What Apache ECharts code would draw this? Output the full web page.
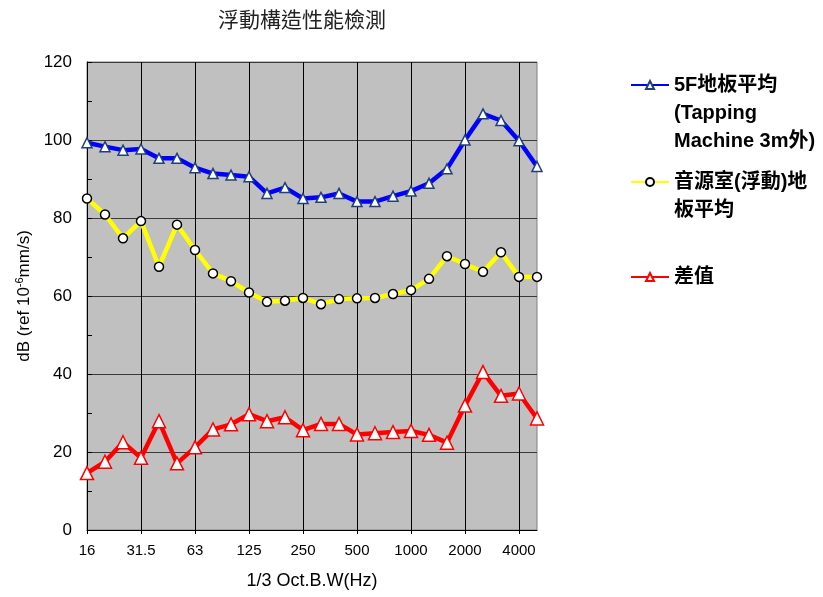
<!DOCTYPE html>
<html>
<head>
<meta charset="utf-8">
<script src="https://cdn.jsdelivr.net/npm/echarts@6/dist/echarts.min.js"></script>
<style>
  html, body { margin: 0; padding: 0; background: #fff; }
  #main { width: 823px; height: 597px; }
</style>
</head>
<body>
<div id="main"></div>
<script>
// 1/3 octave band centre frequencies (Hz)
const freqs = ['16', '20', '25', '31.5', '40', '50', '63', '80', '100', '125', '160', '200', '250',
    '315', '400', '500', '630', '800', '1000', '1250', '1600', '2000', '2500', '3150', '4000', '5000'];

// 5F地板平均 (Tapping Machine 3m外)
const floor5F = [99.3, 98.3, 97.4, 97.7, 95.3, 95.3, 92.9, 91.4, 91.0, 90.6, 86.3, 87.8, 85.0,
    85.3, 86.3, 84.2, 84.2, 85.6, 86.9, 88.9, 92.6, 100.0, 106.7, 105.0, 99.8, 93.2];

// 音源室(浮動)地板平均
const sourceRoom = [85.0, 80.9, 74.8, 79.2, 67.5, 78.3, 71.8, 65.8, 63.8, 60.9, 58.5, 58.8, 59.5,
    57.9, 59.2, 59.4, 59.5, 60.5, 61.5, 64.4, 70.2, 68.2, 66.2, 71.2, 64.9, 64.9];

// 差值
const diff = [14.6, 17.5, 22.5, 18.5, 27.9, 17.1, 21.2, 25.8, 27.1, 29.7, 27.9, 28.9, 25.6,
    27.2, 27.2, 24.5, 24.8, 25.1, 25.4, 24.4, 22.4, 31.9, 40.5, 34.4, 35.0, 28.6];

const seriesNames = ['5F地板平均\n(Tapping\nMachine 3m外)', '音源室(浮動)地\n板平均', '差值'];

const font = '"Liberation Sans", Arial, "Noto Sans CJK TC", sans-serif';

let chart = echarts.init(document.getElementById('main'));

// one legend per series; blank lines in front push the icon onto the first text line
function legendFor(name, top) {
    let lines = name.split('\n').length;
    return {
        data: [name],
        orient: 'vertical',
        left: 625,
        top: top,
        itemWidth: 38,
        itemHeight: 10,
        selectedMode: false,
        formatter: function (n) {
            return '\n'.repeat(lines - 1) + n;
        },
        textStyle: {
            fontFamily: font,
            fontSize: 20,
            fontWeight: 'bold',
            color: '#000',
            lineHeight: 28
        }
    };
}

let option = {
    animation: false,
    title: {
        text: '浮動構造性能檢測',
        left: 213,
        top: 4,
        textStyle: {
            fontFamily: '"Noto Sans CJK TC", sans-serif',
            fontSize: 21,
            fontWeight: 'normal',
            color: '#222'
        }
    },
    legend: [
        legendFor(seriesNames[0], 10),
        legendFor(seriesNames[1], 135),
        legendFor(seriesNames[2], 258)
    ],
    grid: {
        left: 87,
        top: 62,
        right: 286,
        bottom: 67,
        show: true,
        backgroundColor: '#c0c0c0',
        borderColor: '#808080',
        borderWidth: 1
    },
    xAxis: {
        type: 'category',
        data: freqs,
        boundaryGap: false,
        name: '1/3 Oct.B.W(Hz)',
        nameLocation: 'middle',
        nameGap: 42,
        nameTextStyle: {fontFamily: font, fontSize: 18, color: '#000'},
        axisLine: {lineStyle: {color: '#000', width: 1}},
        axisTick: {show: true, interval: 2, length: 4, lineStyle: {color: '#000'}},
        axisLabel: {interval: 2, margin: 13, fontFamily: font, fontSize: 15, color: '#000'},
        splitLine: {show: true, interval: 2, lineStyle: {color: '#000', width: 1}}
    },
    yAxis: {
        type: 'value',
        min: 0,
        max: 120,
        interval: 20,
        name: 'dB (ref 10{sup|-6}mm/s)',
        nameLocation: 'middle',
        nameGap: 52,
        nameRotate: 90,
        nameTextStyle: {
            fontFamily: font,
            fontSize: 17,
            color: '#000',
            rich: {
                sup: {fontFamily: font, fontSize: 11, color: '#000', verticalAlign: 'bottom', padding: [0, 0, 9, 0]}
            }
        },
        axisLine: {show: true, lineStyle: {color: '#000', width: 1}},
        axisTick: {show: true, inside: true, length: 5, lineStyle: {color: '#000'}},
        minorTick: {show: true, splitNumber: 2, length: 5, lineStyle: {color: '#000'}},
        axisLabel: {margin: 15, fontFamily: font, fontSize: 17, color: '#000'},
        splitLine: {show: true, lineStyle: {color: '#3a3a3a', width: 1}}
    },
    series: [
        {
            name: seriesNames[0],
            type: 'line',
            data: floor5F,
            symbol: 'triangle',
            symbolSize: 10,
            showAllSymbol: true,
            lineStyle: {color: '#0000ff', width: 4.5},
            itemStyle: {color: '#ffffff', borderColor: '#1f3f7a', borderWidth: 1.5},
            z: 3
        },
        {
            name: seriesNames[1],
            type: 'line',
            data: sourceRoom,
            symbol: 'circle',
            symbolSize: 9,
            showAllSymbol: true,
            lineStyle: {color: '#ffff00', width: 4.5},
            itemStyle: {color: '#ffffff', borderColor: '#000000', borderWidth: 1.5},
            z: 2
        },
        {
            name: seriesNames[2],
            type: 'line',
            data: diff,
            symbol: 'triangle',
            symbolSize: 13,
            showAllSymbol: true,
            lineStyle: {color: '#ff0000', width: 4.5},
            itemStyle: {color: '#ffffff', borderColor: '#ff0000', borderWidth: 1.5},
            z: 4
        }
    ]
};

chart.setOption(option);
</script>
</body>
</html>
